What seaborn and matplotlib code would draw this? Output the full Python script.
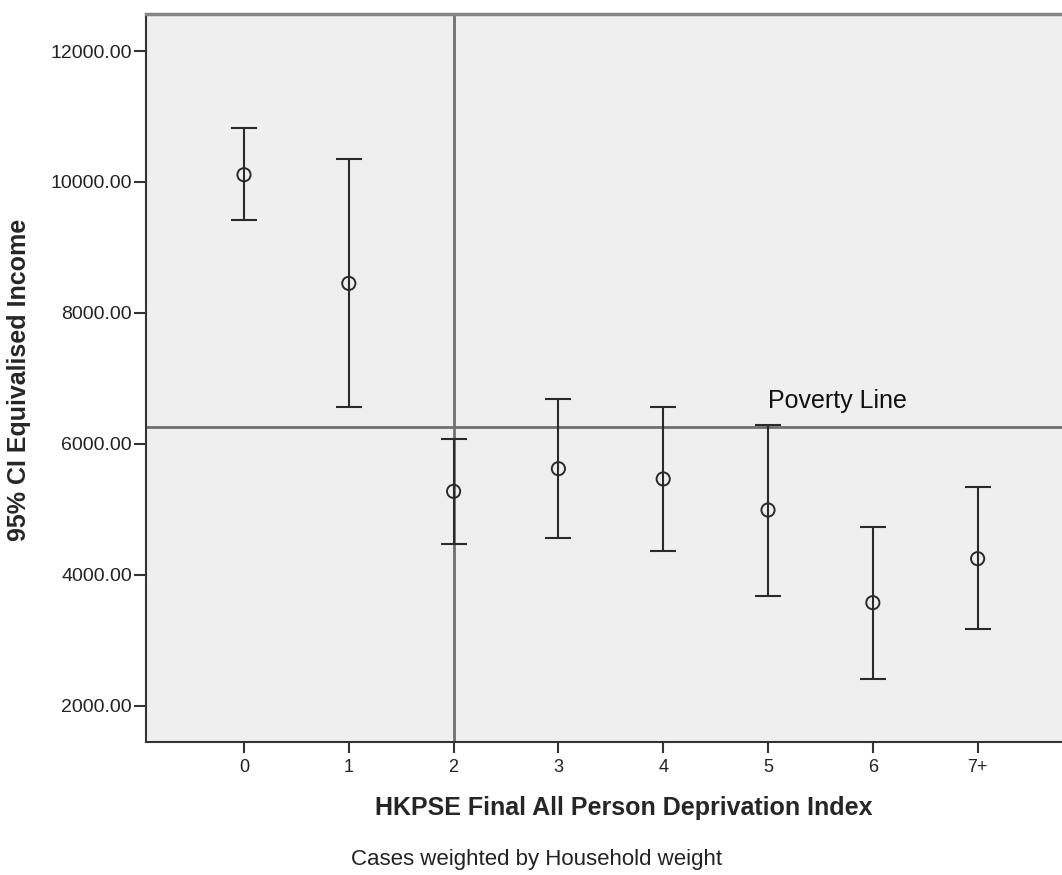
import numpy as np
import pandas as pd
import matplotlib
matplotlib.use("Agg")
import matplotlib.pyplot as plt
import seaborn as sns

# values
categories = ['0', '1', '2', '3', '4', '5', '6', '7+']
means = [10111, 8452, 5277, 5623, 5466, 4992, 3577, 4249]
ci_low = [9420, 6559, 4473, 4570, 4360, 3679, 2417, 3170]
ci_high = [10824, 10356, 6081, 6692, 6559, 6295, 4737, 5338]
poverty_line = 6254
poverty_index = '2'

sns.set_theme(style='white')
plt.rcParams['font.family'] = ['Liberation Sans', 'DejaVu Sans']

df = pd.DataFrame({'cat': categories, 'mean': means, 'lo': ci_low, 'hi': ci_high})
df['pos'] = np.arange(len(df))

fig = plt.figure(figsize=(10.62, 8.75), dpi=100)
ax = fig.add_axes([146 / 1062, 1 - 742 / 875, 1 - 146 / 1062, (742 - 14) / 875])
ax.set_facecolor('#efefef')

# reference lines
ax.axhline(poverty_line, color='#707070', lw=2, zorder=1)
ax.axvline(categories.index(poverty_index), color='#707070', lw=2, zorder=1)

# 95% CI bars
ax.errorbar(df['pos'], df['mean'],
            yerr=[df['mean'] - df['lo'], df['hi'] - df['mean']],
            fmt='none', ecolor='#2a2a2a', elinewidth=1.5, capsize=9.5,
            capthick=1.5, zorder=2)
sns.scatterplot(data=df, x='pos', y='mean', ax=ax, marker='o', s=90,
                facecolor='none', edgecolor='#2a2a2a', linewidth=1.4,
                zorder=3, legend=False)

ax.text(5.0, 6554, 'Poverty Line', fontsize=18, color='#111111',
        ha='left', va='baseline')

ax.set_xlim(-0.935, 7.805)
ax.set_ylim(1450, 12565)
ax.set_xticks(df['pos'])
ax.set_xticklabels(categories, fontsize=13)
ax.set_yticks([2000, 4000, 6000, 8000, 10000, 12000])
ax.set_yticklabels([f'{v:.2f}' for v in [2000, 4000, 6000, 8000, 10000, 12000]],
                   fontsize=14)
ax.tick_params(axis='y', direction='out', length=9, width=1.5, pad=1,
               color='#333333', labelcolor='#222222', left=True)
ax.tick_params(axis='x', direction='out', length=8, width=1.5, pad=4,
               color='#333333', labelcolor='#222222', bottom=True)
ax.set_xlabel('')
ax.set_ylabel('')

for side in ['left', 'bottom']:
    ax.spines[side].set_color('#333333')
    ax.spines[side].set_linewidth(1.5)
ax.spines['top'].set_color('#858585')
ax.spines['top'].set_linewidth(2.5)
ax.spines['right'].set_visible(False)

fig.text(624 / 1062, 1 - 808 / 875, 'HKPSE Final All Person Deprivation Index',
         fontsize=18, fontweight='bold', ha='center', va='center')
fig.text(19 / 1062, 1 - 380 / 875, '95% CI Equivalised Income',
         fontsize=18, fontweight='bold', ha='center', va='center', rotation=90)
fig.text(537 / 1062, 1 - 860 / 875, 'Cases weighted by Household weight',
         fontsize=16, color='#222222', ha='center', va='center')

fig.savefig('out.png', dpi=100)
